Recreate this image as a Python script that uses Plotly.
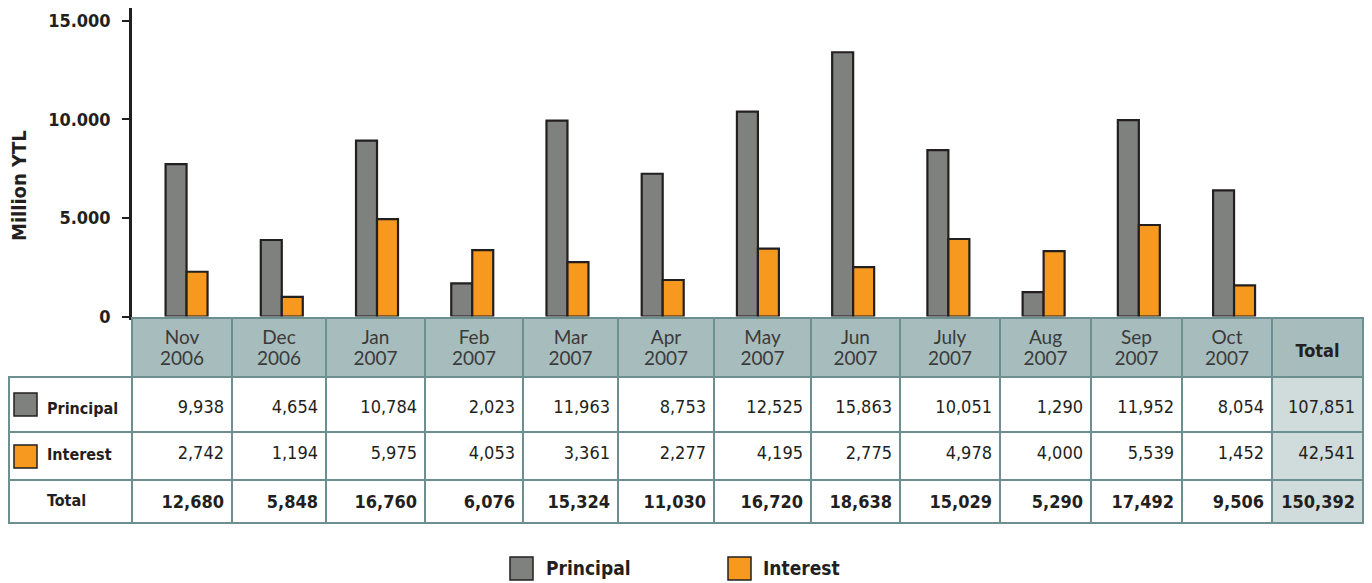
import plotly.graph_objects as go

# --- data -------------------------------------------------------------
months = ["Nov", "Dec", "Jan", "Feb", "Mar", "Apr", "May", "Jun", "July", "Aug", "Sep", "Oct"]
years = ["2006", "2006", "2007", "2007", "2007", "2007", "2007", "2007", "2007", "2007", "2007", "2007"]

# bar heights as drawn in the chart (Million YTL)
principal_bar = [7730, 3880, 8920, 1680, 9930, 7240, 10390, 13400, 8440, 1240, 9960, 6400]
interest_bar = [2270, 1000, 4940, 3370, 2760, 1850, 3440, 2500, 3930, 3320, 4640, 1580]

# figures printed in the table underneath
principal = [9938, 4654, 10784, 2023, 11963, 8753, 12525, 15863, 10051, 1290, 11952, 8054]
interest = [2742, 1194, 5975, 4053, 3361, 2277, 4195, 2775, 4978, 4000, 5539, 1452]
totals = [12680, 5848, 16760, 6076, 15324, 11030, 16720, 18638, 15029, 5290, 17492, 9506]
principal_total = 107851
interest_total = 42541
grand_total = 150392

row_labels = ["Principal", "Interest", "Total"]
y_ticks = [0, 5000, 10000, 15000]

# --- style ------------------------------------------------------------
# the page body has an 8px margin, so the figure sits at (8, 8)
OFF = 8
W, H = 1372 - OFF, 583 - OFF
GRAY = "#7f817f"
ORANGE = "#f7991f"
INK = "#231f20"
HEAD_BG = "#a7bcbc"
TOTAL_BG = "#cfdcdb"
GRID = "#6e8f8f"
CLEAR = "rgba(0,0,0,0)"
COND = "DejaVu Sans Condensed"
HUMAN = "Lato"

col_widths = [100, 94, 99, 98, 95, 96, 97, 89, 100, 91, 91, 90, 91]
label_width = 123
body_rows = [(377, 55), (432, 48), (480, 43)]  # top, height in px


def px(x):
    return (x - OFF) / W


def py(y):
    return 1 - (y - OFF) / H


fig = go.Figure()

fig.add_trace(go.Bar(
    x=months, y=principal_bar, name="Principal",
    marker=dict(color=GRAY, line=dict(color=INK, width=2.2)),
    showlegend=False, hoverinfo="skip"
))
fig.add_trace(go.Bar(
    x=months, y=interest_bar, name="Interest",
    marker=dict(color=ORANGE, line=dict(color=INK, width=2.2)),
    showlegend=False, hoverinfo="skip"
))


def grid_table(x0, top, h, widths, fills):
    # empty table cells: just the fills and the teal rules
    return go.Table(
        domain=dict(x=[px(x0), px(1363)], y=[py(top + h + 4), py(top)]),
        columnwidth=widths,
        header=dict(values=[""] * len(widths), height=h, fill=dict(color=fills),
                    line=dict(color=GRID, width=2)),
        cells=dict(values=[]),
    )


# table grid
fig.add_trace(grid_table(132, 318, 59, col_widths, HEAD_BG))
for top, h in body_rows:
    fig.add_trace(grid_table(9, top, h, [label_width] + col_widths,
                             ["white"] * 13 + [TOTAL_BG]))

# month / year header text
fig.add_trace(go.Table(
    domain=dict(x=[px(132), px(1272)], y=[py(386), py(322)]),
    columnwidth=col_widths[:-1],
    header=dict(values=[[m, y] for m, y in zip(months, years)], height=21,
                fill=dict(color=CLEAR), line=dict(color=CLEAR, width=0), align="center",
                font=dict(family=HUMAN, size=19, color="#3a3a3a")),
    cells=dict(values=[]),
))
fig.add_trace(go.Table(
    domain=dict(x=[px(1272), px(1363)], y=[py(376), py(332)]),
    header=dict(values=["<b>Total</b>"], height=30,
                fill=dict(color=CLEAR), line=dict(color=CLEAR, width=0), align="center",
                font=dict(family=COND, size=18, color=INK)),
    cells=dict(values=[]),
))

# body text
label_col = ["<b>%s</b>" % s for s in row_labels]
number_cols = [[f"{p:,}", f"{i:,}", f"<b>{t:,}</b>"] for p, i, t in zip(principal, interest, totals)]
total_col = [f"{principal_total:,}", f"{interest_total:,}", f"<b>{grand_total:,}</b>"]
fig.add_trace(go.Table(
    domain=dict(x=[px(39), px(1363)], y=[py(535), py(391)]),
    columnwidth=[93] + col_widths,
    header=dict(values=[label_col] + number_cols + [total_col], height=46,
                fill=dict(color=CLEAR), line=dict(color=CLEAR, width=0),
                align=["left"] + ["right"] * 13,
                font=dict(family=COND, size=[16] + [18] * 13, color=INK)),
    cells=dict(values=[]),
))

shapes = []
# colour keys inside the table
for y0, c in [(393, GRAY), (445, ORANGE)]:
    shapes.append(dict(type="rect", xref="paper", yref="paper", x0=px(14), x1=px(37),
                       y0=py(y0), y1=py(y0 + 23), fillcolor=c, line=dict(color=INK, width=1.5),
                       layer="above"))
# bottom legend keys
for x0, c in [(510, GRAY), (728, ORANGE)]:
    shapes.append(dict(type="rect", xref="paper", yref="paper", x0=px(x0), x1=px(x0 + 23),
                       y0=py(557), y1=py(580), fillcolor=c, line=dict(color=INK, width=1.5),
                       layer="above"))

annotations = [
    dict(text="<b>Million YTL</b>", x=px(19), y=py(186), xref="paper", yref="paper",
         xanchor="center", yanchor="middle", textangle=-90, showarrow=False,
         font=dict(family=COND, size=20, color=INK)),
    dict(text="<b>Principal</b>", x=px(544), y=py(568), xref="paper", yref="paper",
         xanchor="left", yanchor="middle", showarrow=False,
         font=dict(family=COND, size=19, color=INK)),
    dict(text="<b>Interest</b>", x=px(761), y=py(568), xref="paper", yref="paper",
         xanchor="left", yanchor="middle", showarrow=False,
         font=dict(family=COND, size=19, color=INK)),
]

fig.update_layout(
    width=W, height=H,
    margin=dict(l=0, r=0, t=0, b=0),
    paper_bgcolor="white", plot_bgcolor="white",
    barmode="group", bargap=0.559, bargroupgap=0,
    separators=",.",
    shapes=shapes, annotations=annotations,
    showlegend=False,
    xaxis=dict(
        type="category", range=[-0.573, 12.354], domain=[px(132), px(1363)],
        showticklabels=False, ticks="", showgrid=False, zeroline=False,
        showline=True, linecolor=INK, linewidth=3, automargin=False,
    ),
    yaxis=dict(
        range=[0, 15644], domain=[py(316.5), py(8)],
        tickvals=y_ticks, tickformat=",d",
        ticks="outside", ticklen=7, tickwidth=2, tickcolor=INK, ticklabelstandoff=8,
        tickfont=dict(family=COND, size=18, color=INK, weight="bold"),
        showline=True, linecolor=INK, linewidth=2.5,
        showgrid=False, zeroline=False, automargin=False,
    ),
)

fig.write_html("out.html")
